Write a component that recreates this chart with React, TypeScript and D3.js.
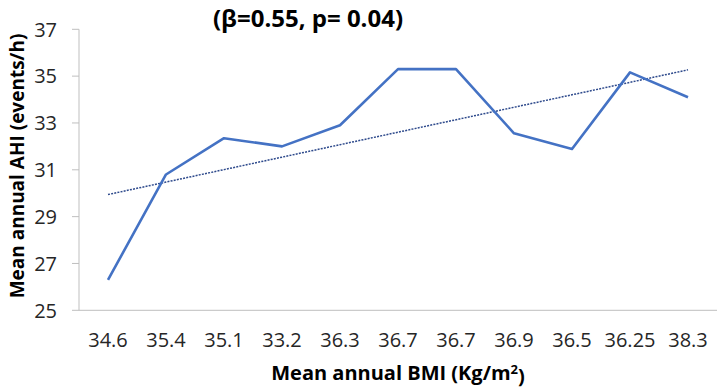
import React from "react";
import * as d3 from "d3";

const categories = ["34.6", "35.4", "35.1", "33.2", "36.3", "36.7", "36.7", "36.9", "36.5", "36.25", "38.3"];
const ahiValues = [26.3, 30.8, 32.35, 32.0, 32.9, 35.3, 35.3, 32.56, 31.89, 35.16, 34.1];
const yTicks = [25, 27, 29, 31, 33, 35, 37];
const titleText = "(β=0.55, p= 0.04)";
const yTitle = "Mean  annual AHI (events/h)";

const W = 723, H = 391;
const left = 79, right = 717, top = 29.3, bottom = 310.3;
const font = "'Open Sans', sans-serif";

export default function App() {
  const x = d3.scaleBand<number>().domain(d3.range(categories.length)).range([left, right]);
  const y = d3.scaleLinear().domain([25, 37]).range([bottom, top]);
  const cx = (i: number) => (x(i) as number) + x.bandwidth() / 2;

  const line = d3.line<number>().x((_, i) => cx(i)).y((d) => y(d));

  // least-squares trend over category index
  const n = ahiValues.length;
  const xs = d3.range(1, n + 1);
  const mx = d3.mean(xs) as number;
  const my = d3.mean(ahiValues) as number;
  const slope = d3.sum(xs, (v, i) => (v - mx) * (ahiValues[i] - my)) / d3.sum(xs, (v) => (v - mx) ** 2);
  const trend = xs.map((v) => my + slope * (v - mx));

  return (
    <svg width={W} height={H} style={{ position: "absolute", left: 0, top: 0, background: "#fff" }}>
      {yTicks.map((t) => (
        <g key={t}>
          <line x1={72} x2={left} y1={y(t)} y2={y(t)} stroke="#bfbfbf" strokeWidth={1} />
          <text x={57} y={y(t)} dy="0.36em" textAnchor="end" fontFamily={font} fontSize={20} fill="#262626">{t}</text>
        </g>
      ))}
      <line x1={left} x2={left} y1={top} y2={bottom} stroke="#bfbfbf" strokeWidth={1} />
      <line x1={left} x2={right} y1={bottom} y2={bottom} stroke="#bfbfbf" strokeWidth={1} />
      {categories.map((c, i) => (
        <text key={i} x={cx(i)} y={340} dy="0.36em" textAnchor="middle" fontFamily={font} fontSize={20} fill="#262626">{c}</text>
      ))}
      <path d={line(trend) as string} fill="none" stroke="#2E4A8C" strokeWidth={1.5} strokeDasharray="2,1.2" />
      <path d={line(ahiValues) as string} fill="none" stroke="#4472C4" strokeWidth={2.6} strokeLinejoin="round" />
      <text x={308} y={27} textAnchor="middle" fontFamily={font} fontWeight="bold" fontSize={24} fill="#000">{titleText}</text>
      <text transform={`translate(17,166) rotate(-90)`} dy="0.36em" textAnchor="middle" fontFamily={font} fontWeight="bold" fontSize={19} fill="#000">{yTitle}</text>
      <text x={(left + right) / 2} y={373} dy="0.36em" textAnchor="middle" fontFamily={font} fontWeight="bold" fontSize={20} fill="#000">
        Mean annual BMI (Kg/m<tspan dy="-0.45em" fontSize={13}>2</tspan><tspan dy="0.45em">)</tspan>
      </text>
    </svg>
  );
}
